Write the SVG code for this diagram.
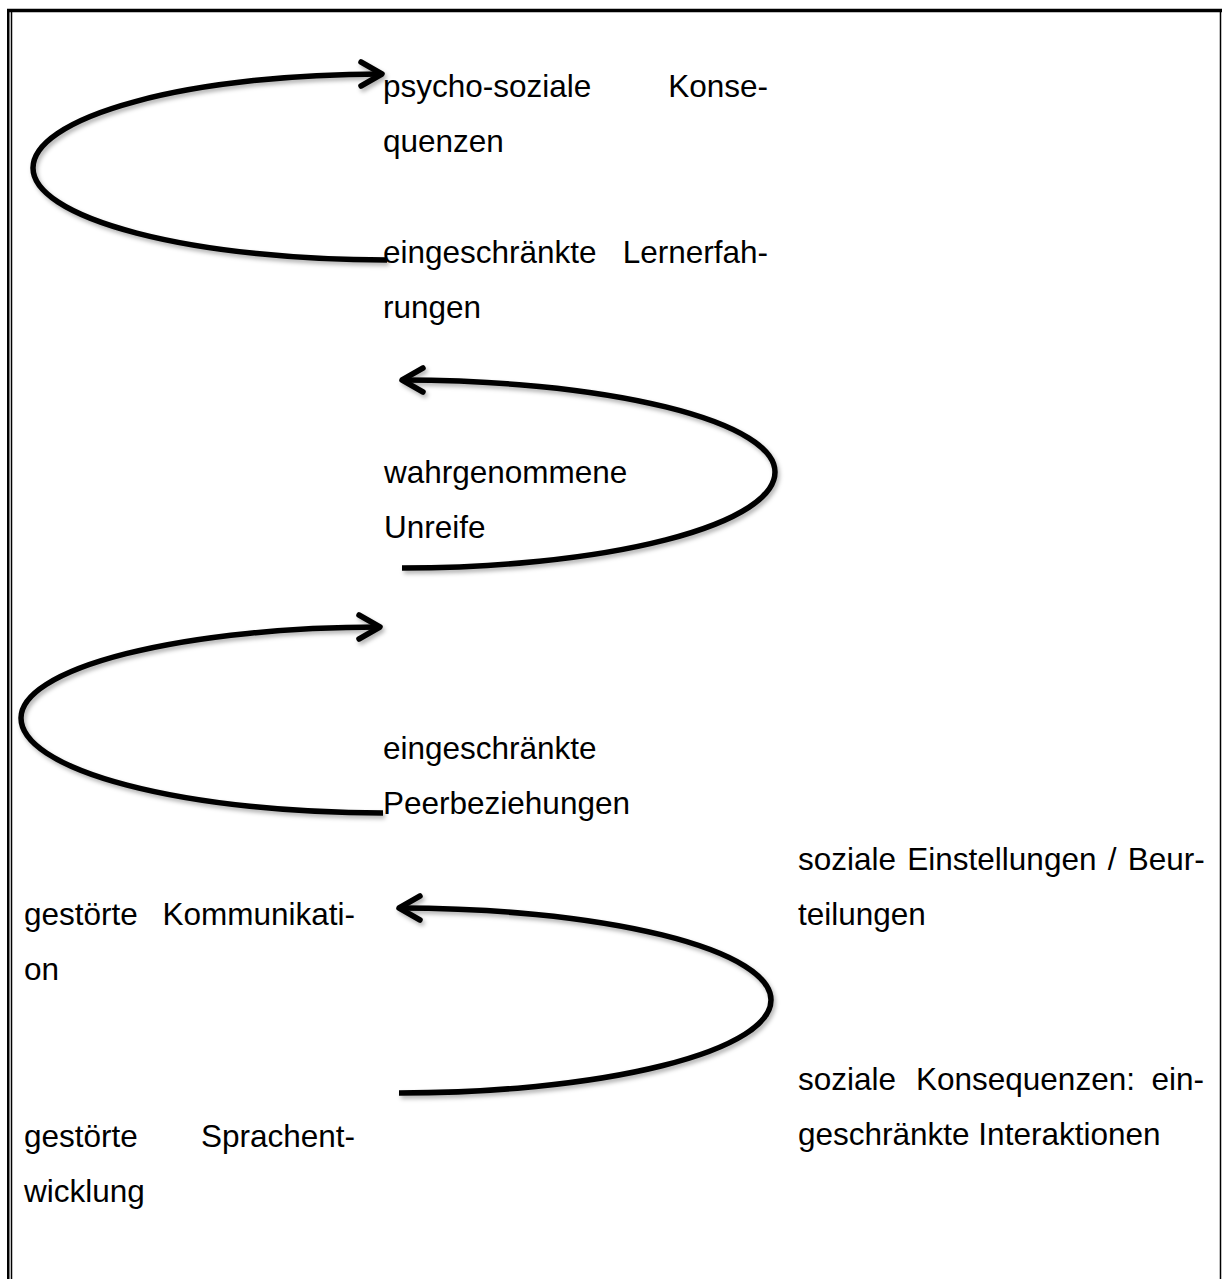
<svg xmlns="http://www.w3.org/2000/svg" width="1222" height="1279" viewBox="0 0 1222 1279">
  <style>
    .t { font-family: "Liberation Sans", Arial, sans-serif; font-size: 31.5px; fill: #000; }
    .e { text-anchor: end; }
    .arc { fill: none; stroke: #000; stroke-width: 5.5; stroke-linecap: butt; }
    .frame { stroke: #000; fill: none; }
  </style>
  <defs>
    <marker id="head" markerUnits="userSpaceOnUse" orient="auto" markerWidth="40" markerHeight="40" viewBox="-30 -20 40 40" refX="0" refY="0" overflow="visible">
      <path d="M-21,-12 L0,0 L-21,12" fill="none" stroke="#000" stroke-width="5.5" stroke-linecap="round" stroke-linejoin="round"/>
    </marker>
    <filter id="shadow" x="-10%" y="-20%" width="120%" height="140%">
      <feDropShadow dx="2" dy="3" stdDeviation="2" flood-color="#000" flood-opacity="0.3"/>
    </filter>
  </defs>
  <rect width="1222" height="1279" fill="#fff"/>

  <g id="frame">
    <line class="frame" x1="7" y1="10.5" x2="1222" y2="10.5" stroke-width="3.5"/>
    <line class="frame" x1="8.25" y1="9" x2="8.25" y2="1279" stroke-width="2.5"/>
    <line class="frame" x1="11.5" y1="12" x2="11.5" y2="1279" stroke-width="1.5"/>
    <line class="frame" x1="1220.5" y1="9" x2="1220.5" y2="1279" stroke-width="1.5"/>
  </g>

  <g id="connectors" filter="url(#shadow)">
    <path id="arrow1" class="arc" marker-end="url(#head)" d="M387,260 A354,92 0 0 1 33,168 A349,94 0 0 1 382,74"/>
    <path id="arrow2" class="arc" marker-end="url(#head)" d="M402,568 A373,96 0 0 0 775,472 A373,92 0 0 0 402,380"/>
    <path id="arrow3" class="arc" marker-end="url(#head)" d="M383,813 A362,95 0 0 1 21,718 A359,91 0 0 1 380,627"/>
    <path id="arrow4" class="arc" marker-end="url(#head)" d="M399,1093 A372,93 0 0 0 771,1000 A372,92 0 0 0 399,908"/>
  </g>

  <g id="node-psychosozial">
    <text class="t" x="383" y="97">psycho-soziale</text>
    <text class="t e" x="768" y="97">Konse-</text>
    <text class="t" x="383" y="152">quenzen</text>
  </g>
  <g id="node-lernerfahrungen">
    <text class="t" x="383" y="263">eingeschränkte</text>
    <text class="t e" x="768" y="263">Lernerfah-</text>
    <text class="t" x="383" y="318">rungen</text>
  </g>
  <g id="node-unreife">
    <text class="t" x="384" y="483">wahrgenommene</text>
    <text class="t" x="384" y="538">Unreife</text>
  </g>
  <g id="node-peerbeziehungen">
    <text class="t" x="383" y="759">eingeschränkte</text>
    <text class="t" x="383" y="814">Peerbeziehungen</text>
  </g>
  <g id="node-kommunikation">
    <text class="t" x="24" y="925">gestörte</text>
    <text class="t e" x="355" y="925">Kommunikati-</text>
    <text class="t" x="24" y="980">on</text>
  </g>
  <g id="node-sprachentwicklung">
    <text class="t" x="24" y="1147">gestörte</text>
    <text class="t e" x="355" y="1147">Sprachent-</text>
    <text class="t" x="24" y="1202">wicklung</text>
  </g>
  <g id="node-einstellungen">
    <text class="t" x="798" y="870" word-spacing="2.5">soziale Einstellungen / Beur-</text>
    <text class="t" x="798" y="925">teilungen</text>
  </g>
  <g id="node-interaktionen">
    <text class="t" x="798" y="1090">soziale</text>
    <text class="t" x="916" y="1090">Konsequenzen:</text>
    <text class="t e" x="1204" y="1090">ein-</text>
    <text class="t" x="798" y="1145">geschränkte Interaktionen</text>
  </g>
</svg>
